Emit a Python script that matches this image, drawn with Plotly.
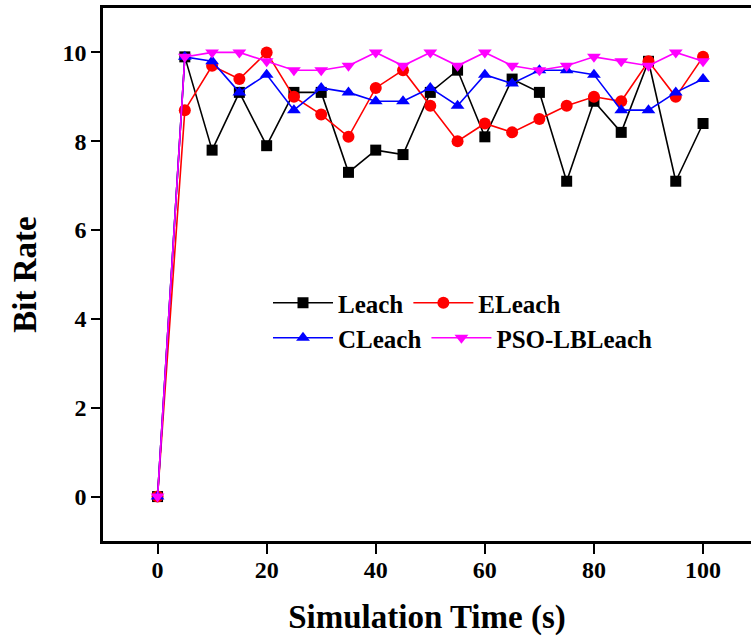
import plotly.graph_objects as go

time_s = [0, 5, 10, 15, 20, 25, 30, 35, 40, 45, 50, 55, 60, 65, 70, 75, 80, 85, 90, 95, 100]
leach = [0, 9.9, 7.8, 9.1, 7.9, 9.1, 9.1, 7.3, 7.8, 7.7, 9.1, 9.6, 8.1, 9.4, 9.1, 7.1, 8.9, 8.2, 9.8, 7.1, 8.4]
eleach = [0, 8.7, 9.7, 9.4, 10.0, 9.0, 8.6, 8.1, 9.2, 9.6, 8.8, 8.0, 8.4, 8.2, 8.5, 8.8, 9.0, 8.9, 9.8, 9.0, 9.9]
cleach = [0, 9.9, 9.8, 9.1, 9.5, 8.7, 9.2, 9.1, 8.9, 8.9, 9.2, 8.8, 9.5, 9.3, 9.6, 9.6, 9.5, 8.7, 8.7, 9.1, 9.4]
pso_lbleach = [0, 9.9, 10.0, 10.0, 9.8, 9.6, 9.6, 9.7, 10.0, 9.7, 10.0, 9.7, 10.0, 9.7, 9.6, 9.7, 9.9, 9.8, 9.7, 10.0, 9.8]

x_ticks = [0, 20, 40, 60, 80, 100]
y_ticks = [0, 2, 4, 6, 8, 10]

FONT = "Liberation Serif"

series = [
    ("Leach", leach, "#000000", "square", 11, "legend"),
    ("ELeach", eleach, "#FF0000", "circle", 12, "legend"),
    ("CLeach", cleach, "#0000FF", "triangle-up", 12, "legend2"),
    ("PSO-LBLeach", pso_lbleach, "#FF00FF", "triangle-down", 12, "legend2"),
]

fig = go.Figure()
for name, vals, color, sym, size, leg in series:
    fig.add_trace(go.Scatter(
        x=time_s, y=vals, name=name, mode="lines+markers",
        line=dict(color=color, width=1.6),
        marker=dict(color=color, symbol=sym, size=size, line=dict(width=0)),
        legend=leg,
    ))

legend_common = dict(
    orientation="h", xanchor="left", yanchor="top",
    font=dict(family=FONT, size=25, color="black", weight="bold"),
    bgcolor="rgba(0,0,0,0)", itemwidth=60, tracegroupgap=0,
)

fig.update_layout(
    width=751, height=639,
    margin=dict(l=103, r=0, t=8, b=98),
    paper_bgcolor="white", plot_bgcolor="white",
    font=dict(family=FONT, color="black"),
    legend=dict(x=(268 - 103) / 648, y=(541 - 280) / 533, **legend_common),
    legend2=dict(x=(268 - 103) / 648, y=(541 - 315) / 533, **legend_common),
    xaxis=dict(
        range=[-10, (751 - 157) / 5.46], tickvals=x_ticks,
        ticks="outside", ticklen=10, tickwidth=1.5, tickcolor="black",
        ticklabelstandoff=-5,
        showline=True, linecolor="black", linewidth=2.5, mirror=True,
        showgrid=False, zeroline=False,
        tickfont=dict(family=FONT, size=24, color="black", weight="bold"),
        title=dict(text="Simulation Time (s)", standoff=24,
                   font=dict(family=FONT, size=33, color="black", weight="bold")),
    ),
    yaxis=dict(
        range=[-1, 11], tickvals=y_ticks,
        ticks="outside", ticklen=9, tickwidth=1.5, tickcolor="black",
        showline=True, linecolor="black", linewidth=2.5,
        showgrid=False, zeroline=False,
        tickfont=dict(family=FONT, size=24, color="black", weight="bold"),
        title=dict(text="Bit Rate", standoff=16,
                   font=dict(family=FONT, size=33, color="black", weight="bold")),
    ),
)

fig.write_html("out.html")
